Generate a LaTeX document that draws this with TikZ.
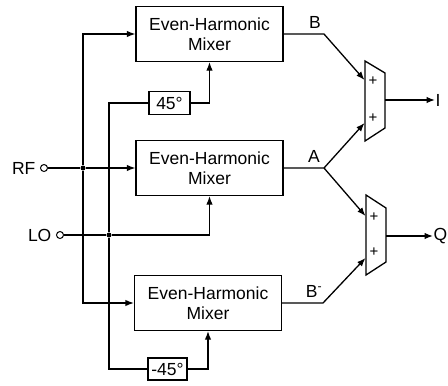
\documentclass[tikz,border=0pt]{standalone}
\usepackage{fontspec}
\setmainfont{Liberation Sans}
\usetikzlibrary{arrows.meta}
\begin{document}
\begin{tikzpicture}[x=1pt,y=-1pt,
  line width=1.3pt,
  font=\fontsize{17.5}{20}\selectfont,
  tip/.style={-{Latex[length=8.5pt,width=6.5pt]}},
  mixer/.style={draw,minimum width=147pt,minimum height=55pt,align=center,inner sep=0pt,font=\fontsize{17.5}{20.5}\selectfont},
  phase/.style={draw,minimum height=23pt,inner sep=1.5pt},
  term/.style={circle,draw,line width=1pt,minimum size=7pt,inner sep=0pt},
  lbl/.style={inner sep=0pt},
  pls/.style={inner sep=0pt,font=\fontsize{15}{16}\selectfont},
  dot/.style={circle,fill,minimum size=5pt,inner sep=0pt}]
\useasboundingbox (0,0) rectangle (448,386);
% mixers
\node[mixer] (mix1) at (209.5,34) {Even-Harmonic\\Mixer};
\node[mixer] (mix2) at (209.5,168) {Even-Harmonic\\Mixer};
\node[mixer] (mix3) at (208,303) {Even-Harmonic\\Mixer};
% phase shifters
\node[phase,minimum width=41pt] (ph1) at (169.5,103) {45°};
\node[phase,minimum width=39pt,minimum height=22pt] (ph2) at (167.5,369) {-45°};
% terminals
\node[term] (rf) at (44,168) {};
\node[term] (lo) at (60,235) {};
\node[lbl,anchor=east] (rflbl) at (36,168) {RF};
\node[lbl,anchor=east] (lolbl) at (52,235) {LO};
% junctions
\node[dot] (rfj) at (83,168) {};
\node[dot] (loj) at (109,235) {};
% adders
\coordinate (a1tl) at (365,61); \coordinate (a1tr) at (385,73);
\coordinate (a1br) at (385,128); \coordinate (a1bl) at (365,141);
\coordinate (a2tl) at (366,195); \coordinate (a2tr) at (386,208);
\coordinate (a2br) at (386,262); \coordinate (a2bl) at (366,275);
\draw (a1tl) -- (a1tr) -- (a1br) -- (a1bl) -- cycle;
\draw (a2tl) -- (a2tr) -- (a2br) -- (a2bl) -- cycle;
\node[pls] (p1) at (373,81) {+};
\node[pls] (p2) at (373,118) {+};
\node[pls] (p3) at (374,217) {+};
\node[pls] (p4) at (374,252) {+};
\coordinate (a1in1) at (364.5,80);
\coordinate (a1in2) at (364.5,123);
\coordinate (a2in1) at (365.5,216);
\coordinate (a2in2) at (365.5,258);
\coordinate (a1out) at (385,100);
\coordinate (a2out) at (386,236);
\node[lbl,anchor=west] (I) at (435,100) {I};
\node[lbl,anchor=west] (Q) at (433,236) {Q};
% RF/LO distribution
\draw (rf) -- (rfj);
\draw[tip] (rfj) -- (mix2.west);
\draw[tip] (rfj) |- (mix1.west);
\draw[tip] (rfj) |- (mix3.west);
\draw (lo) -- (loj);
\draw[tip] (loj) -| (mix2.south);
\draw (loj) |- (ph1.west);
\draw (loj) |- (ph2.west);
\draw[tip] (ph1.east) -| (mix1.south);
\draw[tip] (ph2.east) -| (mix3.south);
% outputs
\coordinate (bj) at (324,34);
\coordinate (aj) at (324,168);
\coordinate (bmj) at (323,303);
\draw[tip] (mix1.east) -- (bj) -- (a1in1);
\draw[tip] (mix2.east) -- (aj) -- (a1in2);
\draw[tip] (aj) -- (a2in1);
\draw[tip] (mix3.east) -- (bmj) -- (a2in2);
\draw[tip] (a1out) -- (I.west);
\draw[tip] (a2out) -- (Q.west);
% labels
\node[lbl] (Bl) at (315,22) {B};
\node[lbl] (Al) at (314,156) {A};
\node[lbl] (Bml) at (314,291) {B\textsuperscript{-}};
\end{tikzpicture}
\end{document}
